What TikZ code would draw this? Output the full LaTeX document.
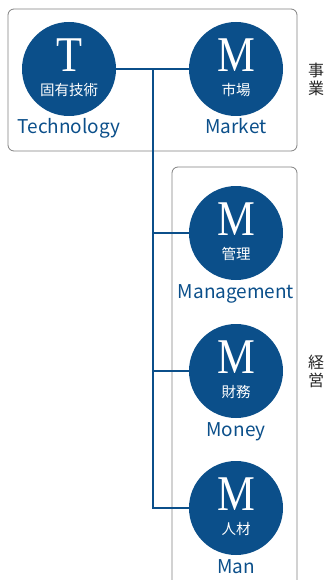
\documentclass[tikz,border=0pt]{standalone}
\usepackage{fontspec}
\newfontfamily\jpfont{Noto Sans CJK JP}
\newfontfamily\letterfont{Liberation Serif}
\definecolor{mblue}{HTML}{0B4F8A}
\definecolor{framegray}{HTML}{808080}

\tikzset{
  mcircle/.style={circle,fill=mblue,minimum size=94pt,inner sep=0pt},
  bigletter/.style={text=white,inner sep=0pt,xscale=0.85,
    font=\letterfont\fontsize{50}{50}\selectfont},
  jplabel/.style={text=white,inner sep=0pt,font=\jpfont\fontsize{14.5}{14.5}\selectfont},
  enlabel/.style={text=mblue,inner sep=0pt,anchor=base,
    font=\jpfont\fontsize{19}{19}\selectfont},
  sidelabel/.style={text=black!85,align=center,inner sep=0pt,
    font=\jpfont\fontsize{16}{18}\selectfont},
  link/.style={mblue,line width=1.2pt},
  frame/.style={framegray,line width=0.8pt,rounded corners=6pt}
}

\begin{document}
\begin{tikzpicture}[x=1pt,y=-1pt]
  \useasboundingbox (0,0) rectangle (326,580);

  % frames: business (top) and management (open at the bottom)
  \draw [frame] (8,9) rectangle (297,151);
  \draw [frame] (172,590) -- (172,167) -- (297,167) -- (297,590);

  % circles with letter, japanese and english label
  \foreach \name/\x/\y/\ltr/\jp/\en in {tech/69/69/T/固有技術/Technology,
      mkt/236/69/M/市場/Market, mgmt/236/233/M/管理/Management,
      money/236/371/M/財務/Money, man/236/508/M/人材/Man}{
    \node [mcircle] (\name) at (\x,\y) {};
    \node [bigletter] (\name-ltr) at ([yshift=14pt]\name.center) {\ltr};
    \node [jplabel] (\name-jp) at ([yshift=-21pt]\name.center) {\jp};
    \node [enlabel] (\name-en) at ([yshift=-65pt]\name.center) {\en};
  }

  % connectors
  \coordinate (fork) at (153,69);
  \draw [link] (tech) -- (mkt);
  \foreach \n in {mgmt,money,man}{
    \draw [link] (fork) |- (\n);
  }

  % side labels
  \node [sidelabel] (biz) at (316,79) {事\\業};
  \node [sidelabel] (mgt) at (316,371) {経\\営};

\end{tikzpicture}
\end{document}
